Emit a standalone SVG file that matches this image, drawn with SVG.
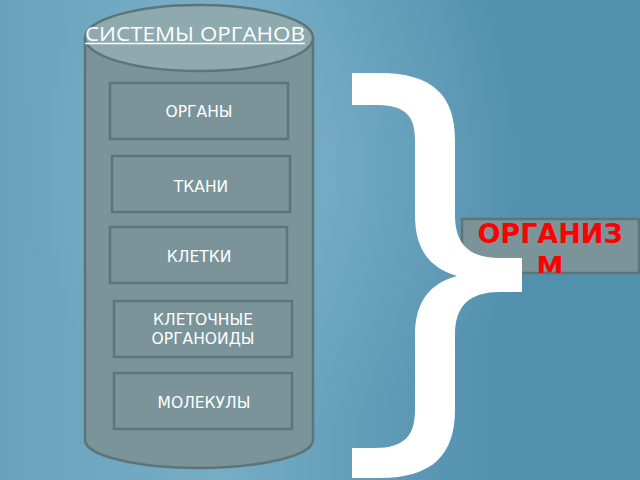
<svg xmlns="http://www.w3.org/2000/svg" width="640" height="480" viewBox="0 0 640 480">
<defs>
<linearGradient id="bg" x1="0" y1="0" x2="1" y2="0">
<stop offset="0" stop-color="#6aa2bd"/>
<stop offset="0.35" stop-color="#76adc5"/>
<stop offset="0.6" stop-color="#5f9ab6"/>
<stop offset="0.8" stop-color="#5290ae"/>
<stop offset="1" stop-color="#5290ae"/>
</linearGradient>
<radialGradient id="glow" cx="280" cy="170" r="260" gradientUnits="userSpaceOnUse">
<stop offset="0" stop-color="#8ec0d4" stop-opacity="0.4"/>
<stop offset="1" stop-color="#8ec0d4" stop-opacity="0"/>
</radialGradient>
<clipPath id="orgClip"><rect x="462" y="219" width="177" height="54"/></clipPath>
<style>
.box{fill:#7a9499;stroke:#5e7478;stroke-width:2.5}
.lbl{font-family:"DejaVu Sans","Open Sans",sans-serif;font-size:15.5px;fill:#ffffff;text-anchor:middle}
.red{font-family:"DejaVu Sans",sans-serif;font-weight:bold;font-size:27px;fill:#ff0000;text-anchor:middle}
</style>
</defs>
<rect width="640" height="480" fill="url(#bg)"/>
<rect width="640" height="480" fill="url(#glow)"/>

<g id="cylinder">
<path d="M85,38 L85,440 A114,28 0 0 0 313,440 L313,38 Z" class="box"/>
<ellipse cx="199" cy="38" rx="114" ry="33" fill="#8eaaae" stroke="#5e7478" stroke-width="2.5"/>
<text x="195" y="41" font-family="'Open Sans','DejaVu Sans',sans-serif" font-size="20.5" fill="#ffffff" text-anchor="middle" textLength="220" lengthAdjust="spacingAndGlyphs">СИСТЕМЫ ОРГАНОВ</text>
<line x1="85" y1="43.5" x2="305" y2="43.5" stroke="#ffffff" stroke-width="1.3"/>
</g>

<g id="organy">
<rect x="110" y="83" width="178" height="56" class="box"/>
<text x="199" y="117" class="lbl">ОРГАНЫ</text>
</g>
<g id="tkani">
<rect x="112" y="156" width="178" height="56" class="box"/>
<text x="201" y="192" class="lbl">ТКАНИ</text>
</g>
<g id="kletki">
<rect x="110" y="227" width="177" height="56" class="box"/>
<text x="199" y="262" class="lbl">КЛЕТКИ</text>
</g>
<g id="organoidy">
<rect x="114" y="301" width="178" height="56" class="box"/>
<text x="203" y="325" class="lbl">КЛЕТОЧНЫЕ</text>
<text x="203" y="344" class="lbl">ОРГАНОИДЫ</text>
</g>
<g id="molekuly">
<rect x="114" y="373" width="178" height="56" class="box"/>
<text x="204" y="408" class="lbl">МОЛЕКУЛЫ</text>
</g>

<g id="organizm">
<rect x="462" y="219" width="177" height="54" class="box"/>
<g clip-path="url(#orgClip)">
<text x="550" y="243" class="red">ОРГАНИЗ</text>
<text x="550" y="276" class="red">М</text>
</g>
</g>

<g id="connectors">
<path d="M352,73 L380,73 C432,73 455,95 455,140 L455,215 C455,245 470,258 500,258 L522,258 L522,292 L500,292 C470,292 455,305 455,335 L455,410 C455,455 432,478 380,478 L352,478 L352,448 L375,448 C405,448 415,435 415,410 L415,335 C415,302 430,283 457,276 C430,268 415,250 415,215 L415,140 C415,115 405,105 375,105 L352,105 Z" fill="#ffffff"/>
</g>
</svg>
